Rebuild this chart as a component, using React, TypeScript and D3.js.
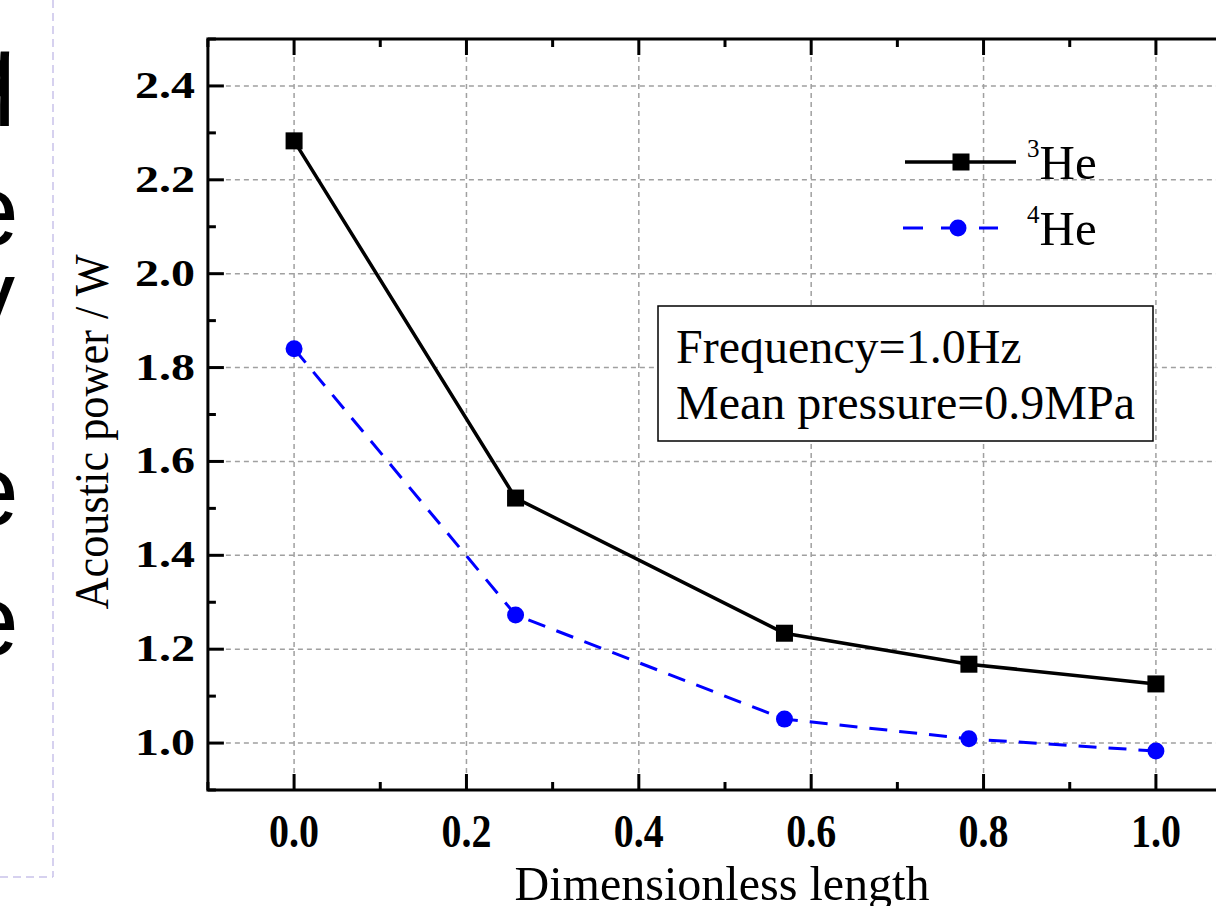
import React from "react";
import * as d3 from "d3";

const xValues = [0, 0.257, 0.569, 0.783, 1.0];
const he3Values = [2.283, 1.522, 1.234, 1.168, 1.126];
const he4Values = [1.84, 1.273, 1.051, 1.009, 0.983];
const xTicks = [0, 0.2, 0.4, 0.6, 0.8, 1.0];
const yTicks = [1.0, 1.2, 1.4, 1.6, 1.8, 2.0, 2.2, 2.4];
const seriesNames = ["3", "4"];
const annotationLines = ["Frequency=1.0Hz", "Mean pressure=0.9MPa"];
const sideLetters = ["q", "e", "y", "e", "e"];

export default function App() {
  const W = 1216, H = 906;
  const x = d3.scaleLinear().domain([-0.1, 1.1]).range([207.9, 1242.1]);
  const y = d3.scaleLinear().domain([0.9, 2.5]).range([790, 39]);
  const left = x(-0.1), right = x(1.1), top = y(2.5), bottom = y(0.9);
  const pts3 = xValues.map((v, i) => [v, he3Values[i]] as [number, number]);
  const pts4 = xValues.map((v, i) => [v, he4Values[i]] as [number, number]);
  const line = d3.line<[number, number]>().x(d => x(d[0])).y(d => y(d[1]));
  const minorX = d3.range(-0.1, 1.1001, 0.1).map(v => +v.toFixed(2));
  const minorY = d3.range(0.9, 2.5001, 0.1).map(v => +v.toFixed(2));
  const isMajorX = (v: number) => xTicks.some(t => Math.abs(t - v) < 1e-6);
  const isMajorY = (v: number) => yTicks.some(t => Math.abs(t - v) < 1e-6);
  const serif = "'Liberation Serif', 'Times New Roman', serif";
  const sans = "'Liberation Sans', Arial, sans-serif";
  const letterY = [105, 245, 330, 525, 655];
  const letterX = [-40, -37, -35, -37, -37];

  return (
    <svg width={W} height={H} style={{ position: "absolute", left: 0, top: 0, background: "#fff" }}>
      <rect x={0} y={0} width={W} height={H} fill="#fff" />
      {/* left decoration */}
      {sideLetters.map((l, i) => (
        <text key={i} x={letterX[i]} y={letterY[i]} fontFamily={sans} fontSize={100} fill="#000">{l}</text>
      ))}
      <line x1={53} y1={0} x2={53} y2={877} stroke="#c9c2ea" strokeWidth={1.5} strokeDasharray="8,5" />
      <line x1={0} y1={877} x2={53} y2={877} stroke="#c9c2ea" strokeWidth={1.5} strokeDasharray="8,5" />

      {/* grid */}
      {xTicks.map(t => (
        <line key={"gx" + t} x1={x(t)} x2={x(t)} y1={top} y2={bottom} stroke="#a0a0a0" strokeWidth={1.5} strokeDasharray="5,4" />
      ))}
      {yTicks.map(t => (
        <line key={"gy" + t} x1={left} x2={right} y1={y(t)} y2={y(t)} stroke="#a0a0a0" strokeWidth={1.5} strokeDasharray="5,4" />
      ))}

      {/* ticks */}
      {minorX.map(t => {
        const len = isMajorX(t) ? 16 : 8;
        return (
          <g key={"tx" + t}>
            <line x1={x(t)} x2={x(t)} y1={bottom} y2={bottom - len} stroke="#000" strokeWidth={3} />
            <line x1={x(t)} x2={x(t)} y1={top} y2={top + len} stroke="#000" strokeWidth={3} />
          </g>
        );
      })}
      {minorY.map(t => {
        const len = isMajorY(t) ? 16 : 8;
        return (
          <g key={"ty" + t}>
            <line x1={left} x2={left + len} y1={y(t)} y2={y(t)} stroke="#000" strokeWidth={3} />
            <line x1={right} x2={right - len} y1={y(t)} y2={y(t)} stroke="#000" strokeWidth={3} />
          </g>
        );
      })}

      {/* frame */}
      <rect x={left} y={top} width={right - left} height={bottom - top} fill="none" stroke="#000" strokeWidth={3} />

      {/* tick labels */}
      {xTicks.map(t => (
        <text key={"lx" + t} x={x(t)} y={847} textAnchor="middle" fontFamily={serif} fontWeight="bold" fontSize={46} textLength={50} lengthAdjust="spacingAndGlyphs">{t.toFixed(1)}</text>
      ))}
      {yTicks.map(t => (
        <text key={"ly" + t} x={195} y={y(t) + 12} textAnchor="end" fontFamily={serif} fontWeight="bold" fontSize={37} textLength={60} lengthAdjust="spacingAndGlyphs">{t.toFixed(1)}</text>
      ))}

      {/* axis titles */}
      <text x={722} y={900} textAnchor="middle" fontFamily={serif} fontSize={48} textLength={415} lengthAdjust="spacingAndGlyphs">Dimensionless length</text>
      <text transform={`translate(108,432) rotate(-90)`} textAnchor="middle" fontFamily={serif} fontSize={49} textLength={355} lengthAdjust="spacingAndGlyphs">Acoustic power / W</text>

      {/* series */}
      <path d={line(pts4) || ""} fill="none" stroke="#0000ff" strokeWidth={3} strokeDasharray="18,12" />
      {pts4.map((p, i) => (
        <circle key={"c" + i} cx={x(p[0])} cy={y(p[1])} r={8.5} fill="#0000ff" />
      ))}
      <path d={line(pts3) || ""} fill="none" stroke="#000" strokeWidth={3.5} />
      {pts3.map((p, i) => (
        <rect key={"s" + i} x={x(p[0]) - 8.5} y={y(p[1]) - 8.5} width={17} height={17} fill="#000" />
      ))}

      {/* legend */}
      <g>
        <line x1={905} x2={1016} y1={162} y2={162} stroke="#000" strokeWidth={3.5} />
        <rect x={961 - 8.5} y={162 - 8.5} width={17} height={17} fill="#000" />
        <text x={1027} y={179} fontFamily={serif} fontSize={49}>
          <tspan fontSize={25} dy={-22}>{seriesNames[0]}</tspan>
          <tspan dy={22}>He</tspan>
        </text>
        <line x1={903} x2={998} y1={228} y2={228} stroke="#0000ff" strokeWidth={3} strokeDasharray="20,18" />
        <circle cx={958} cy={228} r={8.5} fill="#0000ff" />
        <text x={1027} y={245} fontFamily={serif} fontSize={49}>
          <tspan fontSize={25} dy={-22}>{seriesNames[1]}</tspan>
          <tspan dy={22}>He</tspan>
        </text>
      </g>

      {/* annotation box */}
      <rect x={658} y={306} width={495} height={135} fill="#fff" stroke="#000" strokeWidth={1.5} />
      {annotationLines.map((s, i) => (
        <text key={"a" + i} x={676} y={363 + i * 56} fontFamily={serif} fontSize={48}>{s}</text>
      ))}
    </svg>
  );
}
